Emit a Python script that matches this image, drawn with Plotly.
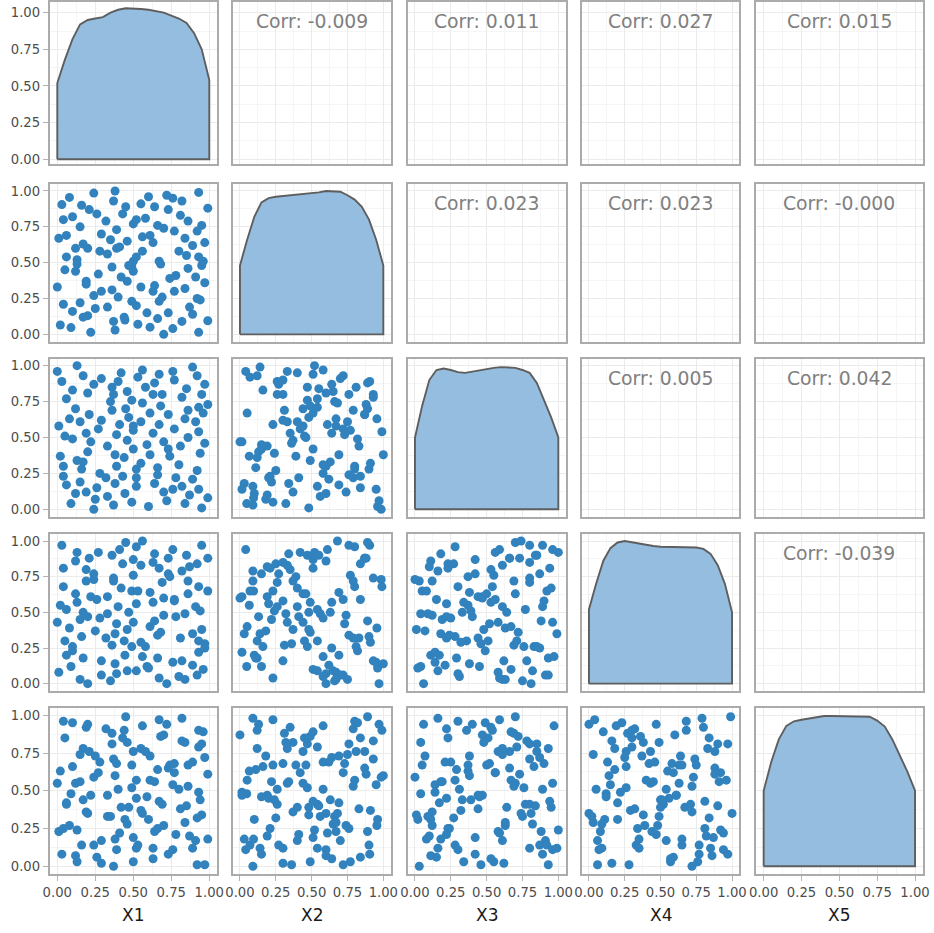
import plotly.graph_objects as go

# ---------------- data ----------------
VARS = ["X1", "X2", "X3", "X4", "X5"]

X1 = [0.00, 0.01, 0.02, 0.03, 0.04, 0.04, 0.05, 0.06, 0.06, 0.08,
      0.09, 0.10, 0.10, 0.12, 0.12, 0.13, 0.13, 0.15, 0.15, 0.16,
      0.17, 0.17, 0.19, 0.19, 0.20, 0.20, 0.21, 0.22, 0.24, 0.24,
      0.25, 0.26, 0.27, 0.28, 0.29, 0.29, 0.32, 0.33, 0.33, 0.35,
      0.36, 0.36, 0.37, 0.37, 0.38, 0.38, 0.39, 0.39, 0.40, 0.41,
      0.42, 0.43, 0.44, 0.445, 0.45, 0.46, 0.46, 0.47, 0.49, 0.49,
      0.50, 0.50, 0.50, 0.52, 0.52, 0.52, 0.53, 0.55, 0.55, 0.56,
      0.56, 0.58, 0.59, 0.60, 0.61, 0.61, 0.63, 0.63, 0.64, 0.64,
      0.66, 0.66, 0.67, 0.67, 0.68, 0.69, 0.70, 0.70, 0.72, 0.73,
      0.73, 0.74, 0.76, 0.76, 0.77, 0.77, 0.78, 0.80, 0.81, 0.82,
      0.82, 0.84, 0.84, 0.85, 0.86, 0.86, 0.87, 0.89, 0.89, 0.91,
      0.92, 0.92, 0.93, 0.93, 0.93, 0.94, 0.95, 0.95, 0.96, 0.97,
      0.97, 0.99, 0.99]

X2 = [0.33, 0.67, 0.065, 0.905, 0.80, 0.21, 0.45, 0.69, 0.54, 0.955,
      0.047, 0.82, 0.16, 0.60, 0.44, 0.52, 0.49, 0.75, 0.22, 0.90,
      0.63, 0.12, 0.37, 0.35, 0.60, 0.13, 0.87, 0.014, 0.985, 0.27,
      0.18, 0.84, 0.42, 0.58, 0.70, 0.30, 0.79, 0.56, 0.19, 0.66,
      0.47, 0.31, 0.93, 0.09, 1.00, 0.03, 0.73, 0.60, 0.26, 0.61,
      0.40, 0.84, 0.12, 0.10, 0.89, 0.65, 0.37, 0.48, 0.47, 0.23,
      0.51, 0.44, 0.77, 0.54, 0.80, 0.20, 0.07, 0.33, 0.91, 0.58,
      0.68, 0.81, 0.15, 0.96, 0.05, 0.69, 0.30, 0.64, 0.34, 0.89,
      0.11, 0.76, 0.23, 0.51, 0.49, 0.26, 0.74, 0.00, 0.97, 0.87,
      0.15, 0.39, 0.95, 0.04, 0.72, 0.30, 0.41, 0.58, 0.83, 0.93,
      0.09, 0.67, 0.32, 0.55, 0.79, 0.46, 0.19, 0.14, 0.62, 0.40,
      0.72, 0.25, 0.99, 0.54, 0.014, 0.24, 0.76, 0.48, 0.51, 0.64,
      0.36, 0.88, 0.095]

X3 = [0.96, 0.58, 0.37, 0.89, 0.30, 0.23, 0.51, 0.17, 0.77, 0.63,
      0.04, 0.49, 0.83, 0.11, 0.70, 1.00, 0.34, 0.61, 0.19, 0.28,
      0.33,
      0.93, 0.12, 0.53, 0.81, 0.40, 0.66, 0.47, 0.00, 0.87, 0.07,
      0.15, 0.56, 0.25, 0.91, 0.62, 0.22, 0.09, 0.44, 0.75, 0.85,
      0.69, 0.80, 0.03, 0.38, 0.18, 0.52, 0.30, 0.89, 0.59, 0.95,
      0.23, 0.36, 0.11, 0.70, 0.82, 0.48, 0.64, 0.76, 0.05, 0.42,
      0.58,
      0.55, 0.16, 0.28, 0.22, 0.92, 0.61, 0.32, 0.97, 0.74, 0.85,
      0.45, 0.02, 0.67, 0.38, 0.80, 0.53, 0.18, 0.88, 0.29, 0.24,
      0.59, 0.94, 0.72, 0.80, 0.12, 0.47, 0.06, 0.66, 0.42, 0.37,
      0.14,
      0.96, 0.56, 0.90, 0.22, 0.31, 0.44, 0.78, 0.16, 0.63, 0.04,
      0.84, 0.69, 0.50, 0.10, 0.99, 0.21, 0.61, 0.93, 0.27, 0.54,
      0.71,
      0.14, 0.39, 0.80, 0.01, 0.67, 0.87, 0.46, 0.73, 0.08]

X4 = [0.43, 0.08, 0.55, 0.97, 0.68, 0.81, 0.30, 0.20, 0.52, 0.39,
      0.12, 0.23, 0.26, 0.86, 0.63, 0.92, 0.57, 0.03, 0.45, 0.33,
      0.50,
      0.18, 0.72, 0.80, 0.00, 0.47, 0.88, 0.61, 0.73, 0.77, 0.37,
      0.59, 0.92, 0.46, 0.06, 0.16, 0.32, 0.49, 0.61, 0.02, 0.90,
      0.27,
      0.74, 0.72, 0.14, 0.35, 0.42, 0.07, 0.54, 0.94, 0.67, 0.84,
      0.30, 0.20, 0.99, 0.09, 0.38, 0.50, 0.26, 0.65, 0.87, 0.43,
      0.76,
      0.09, 0.96, 0.56, 0.65, 0.83, 0.29, 0.19, 1.00, 0.26, 0.12,
      0.11,
      0.40, 0.64, 0.85, 0.57, 0.91, 0.44, 0.18, 0.34, 0.04, 0.81,
      0.36,
      0.71, 0.48, 0.60, 0.00, 0.88, 0.77, 0.75, 0.15, 0.94, 0.59,
      0.58,
      0.47, 0.05, 0.32, 0.16, 0.79, 0.03, 0.49, 0.90, 0.72, 0.63,
      0.82,
      0.35, 0.13, 0.54, 0.06, 0.84, 0.68, 0.30, 0.22, 0.51, 0.97,
      0.38, 0.10, 0.25, 0.28, 0.88, 0.65]

X5 = [0.55, 0.23, 0.63, 0.08, 0.96, 0.25, 0.85, 0.42, 0.41, 0.27,
      0.48,
      0.95, 0.66, 0.07, 0.55, 0.24, 0.03, 0.74, 0.56, 0.14, 0.44,
      0.78, 0.36, 0.92, 0.35, 0.94, 0.76, 0.47, 0.59, 0.14, 0.73,
      0.06,
      0.62, 0.69, 0.17, 0.02, 0.91, 0.33, 0.47, 0.33, 0.81, 0.88,
      0.71, 0.00, 0.60, 0.18, 0.68, 0.11, 0.51, 0.22, 0.39, 0.85,
      0.90,
      0.31, 0.99, 0.28, 0.82, 0.39, 0.52, 0.67, 0.19, 0.76, 0.03,
      0.12, 0.57, 0.45, 0.14, 0.78, 0.37, 0.93, 0.35, 0.76, 0.46,
      0.31,
      0.57, 0.73, 0.12, 0.05, 0.56, 0.23, 0.64, 0.25, 0.97, 0.43,
      0.86, 0.41, 0.27, 0.87, 0.94, 0.65, 0.08, 0.67, 0.54, 0.11,
      0.62,
      0.68, 0.21, 0.51, 0.38, 0.83, 0.98, 0.29, 0.82, 0.40, 0.53,
      0.67, 0.20, 0.12, 0.69, 0.17, 0.01, 0.32, 0.90, 0.79, 0.49,
      0.44,
      0.81, 0.34, 0.89, 0.72, 0.01, 0.61, 0.18]

# density curves on the diagonal (value at each grid x)
DENS_X = [0.00, 0.05, 0.10, 0.15, 0.20, 0.25, 0.30, 0.35, 0.40, 0.45, 0.50,
          0.55, 0.60, 0.65, 0.70, 0.75, 0.80, 0.85, 0.90, 0.95, 1.00]
D1 = [0.52, 0.68, 0.82, 0.92, 0.95, 0.96, 0.97, 1.00, 1.02, 1.03, 1.03,
      1.025, 1.02, 1.01, 1.00, 0.98, 0.96, 0.93, 0.86, 0.75, 0.54]
D2 = [0.48, 0.66, 0.82, 0.92, 0.95, 0.96, 0.965, 0.97, 0.97, 0.975, 0.98,
      0.99, 1.00, 1.00, 0.995, 0.97, 0.94, 0.89, 0.80, 0.66, 0.48]
D3 = [0.50, 0.72, 0.90, 0.97, 0.98, 0.97, 0.955, 0.95, 0.96, 0.97, 0.975,
      0.985, 0.99, 0.99, 0.985, 0.97, 0.95, 0.88, 0.76, 0.64, 0.50]
D4 = [0.52, 0.70, 0.86, 0.95, 0.99, 1.00, 0.99, 0.98, 0.97, 0.965, 0.96,
      0.96, 0.96, 0.96, 0.96, 0.955, 0.945, 0.91, 0.83, 0.70, 0.50]
D5 = [0.50, 0.69, 0.84, 0.93, 0.96, 0.97, 0.98, 0.99, 0.995, 0.995, 0.995,
      0.995, 0.995, 0.995, 0.99, 0.965, 0.925, 0.84, 0.73, 0.625, 0.50]

# correlation labels (row, col) in the upper triangle
CORR_LABELS = [
    ["", "-0.009", "0.011", "0.027", "0.015"],
    ["", "", "0.023", "0.023", "-0.000"],
    ["", "", "", "0.005", "0.042"],
    ["", "", "", "", "-0.039"],
    ["", "", "", "", ""],
]

TICK_VALS = [0, 0.25, 0.5, 0.75, 1.0]
TICK_TEXT = ["0.00", "0.25", "0.50", "0.75", "1.00"]

# ---------------- layout geometry ----------------
W, H = 934, 933
COL_PX = [(49.7, 216.9), (232.8, 390.5), (407.8, 565.5), (581.8, 739.2), (756.1, 922.6)]
ROW_PX = [(1.7, 163.5), (183.8, 341.5), (358.5, 516.5), (533.9, 690.8), (707.7, 873.8)]
ROW_RANGE = [[-0.029, 1.075], [-0.05, 1.05], [-0.05, 1.05], [-0.05, 1.05], [-0.05, 1.05]]
X_RANGE = [-0.05, 1.05]

DATA = [X1, X2, X3, X4, X5]
DENS = [D1, D2, D3, D4, D5]

FONT = "DejaVu Sans"
POINT_COLOR = "#3182BD"
FILL_COLOR = "#95BDDF"
EDGE_COLOR = "#5E5E5E"
BORDER = "#ABABAB"
GRID = "#EBEBEB"
MINOR_GRID = "#F5F5F5"
TICK_FONT = dict(family=FONT, size=13.2, color="#4D4D4D")

fig = go.Figure()
layout = dict(
    width=W, height=H, autosize=False,
    margin=dict(l=0, r=0, t=0, b=0, autoexpand=False),
    paper_bgcolor="white", plot_bgcolor="white",
    showlegend=False,
    font=dict(family=FONT, size=13, color="#4D4D4D"),
)
annotations = []

for i in range(5):
    for j in range(5):
        idx = i * 5 + j + 1
        sx = "" if idx == 1 else str(idx)
        xref, yref = "x" + sx, "y" + sx
        c0, c1 = COL_PX[j]
        r0, r1 = ROW_PX[i]
        common = dict(
            tickvals=TICK_VALS, ticktext=TICK_TEXT,
            ticklen=5, tickwidth=1, tickcolor="#B3B3B3",
            tickfont=TICK_FONT, automargin=False,
            showgrid=True, gridcolor=GRID, gridwidth=1,
            minor=dict(tickvals=[0.125, 0.375, 0.625, 0.875], showgrid=True,
                       gridcolor=MINOR_GRID, gridwidth=0.6),
            zeroline=False, showline=True, mirror=True,
            linecolor=BORDER, linewidth=1.8, fixedrange=True,
        )
        layout["xaxis" + sx] = dict(
            domain=[c0 / W, c1 / W], range=X_RANGE, anchor=yref,
            showticklabels=(i == 4), ticks="outside" if i == 4 else "",
            **common,
        )
        layout["yaxis" + sx] = dict(
            domain=[1 - r1 / H, 1 - r0 / H], range=ROW_RANGE[i], anchor=xref,
            showticklabels=(j == 0), ticks="outside" if j == 0 else "",
            **common,
        )
        if i == j:
            d = DENS[i]
            fig.add_trace(go.Scatter(
                x=[DENS_X[0]] + DENS_X + [DENS_X[-1], DENS_X[0]],
                y=[0] + d + [0, 0],
                mode="lines", fill="toself", fillcolor=FILL_COLOR,
                line=dict(color=EDGE_COLOR, width=1.9),
                xaxis=xref, yaxis=yref, hoverinfo="skip",
            ))
        elif i > j:
            fig.add_trace(go.Scatter(
                x=DATA[j], y=DATA[i], mode="markers",
                marker=dict(color=POINT_COLOR, size=9, line=dict(width=0)),
                xaxis=xref, yaxis=yref,
            ))
        else:
            fig.add_trace(go.Scatter(x=[], y=[], xaxis=xref, yaxis=yref,
                                     mode="markers"))
            annotations.append(dict(
                text="Corr: " + CORR_LABELS[i][j],
                xref="paper", yref="paper",
                x=(c0 + c1) / 2 / W, y=1 - (r0 + 20) / H,
                xanchor="center", yanchor="middle", showarrow=False,
                font=dict(family=FONT, size=18.8, color="#808080"),
            ))

for j, name in enumerate(VARS):
    c0, c1 = COL_PX[j]
    annotations.append(dict(
        text=name, xref="paper", yref="paper",
        x=(c0 + c1) / 2 / W, y=1 - 915 / H,
        xanchor="center", yanchor="middle", showarrow=False,
        font=dict(family=FONT, size=17, color="#1A1A1A"),
    ))

layout["annotations"] = annotations
fig.update_layout(**layout)
# place the figure at the page's top-left corner (no default body margin)
fig.write_html("out.html",
               config={"displayModeBar": False},
               post_script="document.body.style.margin='0px';"
                           "document.body.style.overflow='hidden';")
